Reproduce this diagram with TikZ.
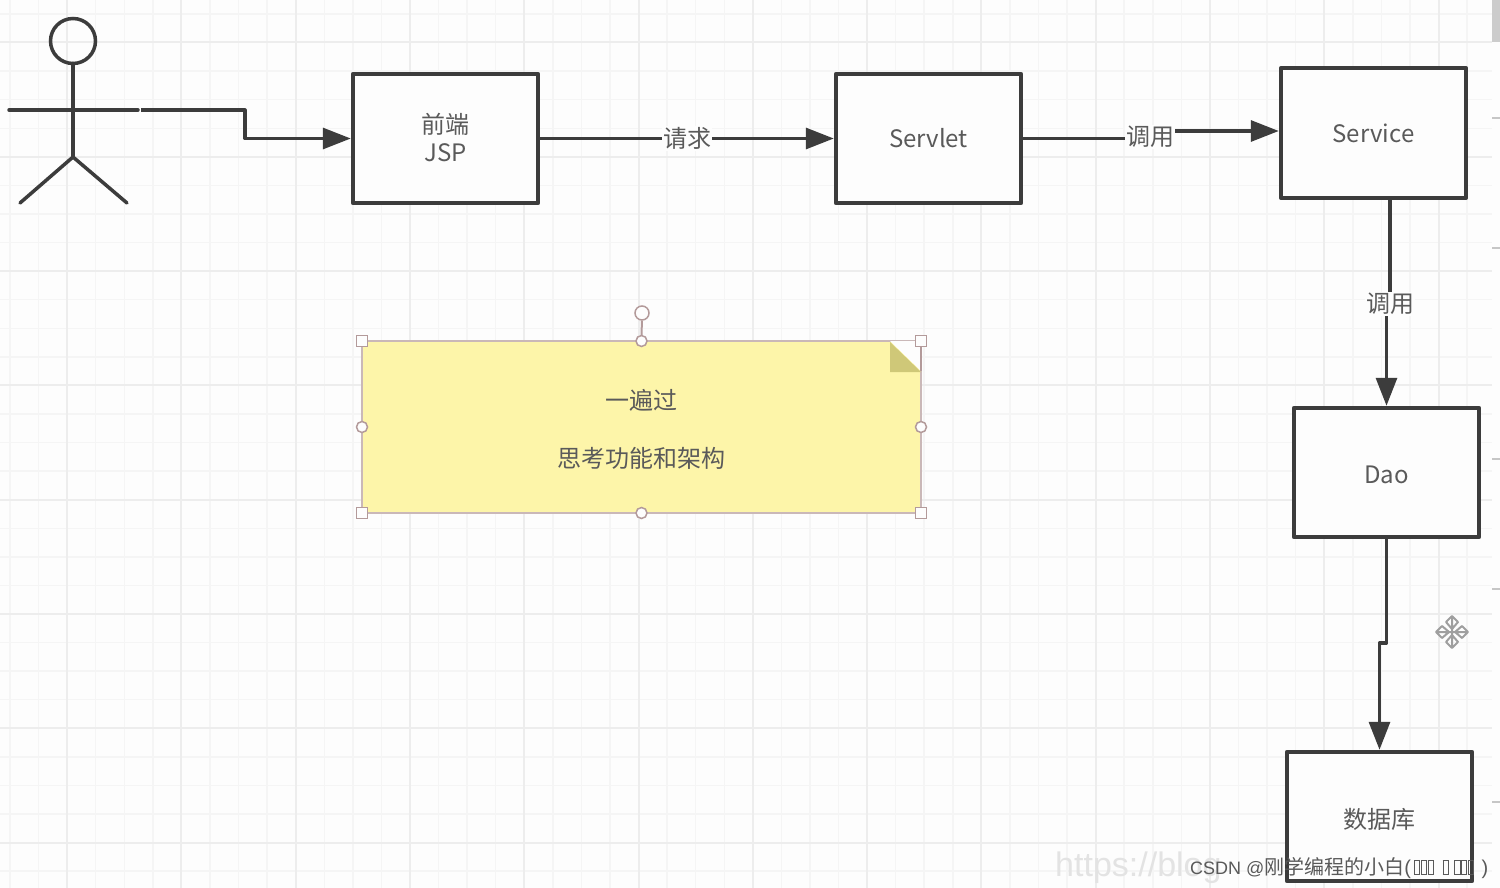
\documentclass[tikz,border=0pt]{standalone}
\usepackage{fontspec}
\setmainfont{Noto Sans CJK SC}
\newfontfamily\wmfont{Liberation Sans}
\usetikzlibrary{arrows.meta,positioning}
\definecolor{paper}{HTML}{FDFDFD}
\definecolor{gridminor}{HTML}{F5F5F5}
\definecolor{gridmajor}{HTML}{EDEDED}
\definecolor{ink}{HTML}{3C3C3C}
\definecolor{labelink}{HTML}{5A5A5A}
\definecolor{notefill}{HTML}{FDF5A9}
\definecolor{notefold}{HTML}{CFC878}
\definecolor{handle}{HTML}{B39A9A}
\newcommand{\tofubox}{\fboxsep=0pt\fboxrule=0.9pt\fbox{\rule{0pt}{14pt}\hspace{4.4pt}}\hspace{0.6pt}}
\newcommand{\textdrop}[1]{\rule{0pt}{#1}}
\tikzset{
  block/.style={draw=ink,fill=paper,line width=3.8pt,line join=round,minimum width=185.5pt,minimum height=129.5pt,outer sep=0pt,inner sep=0pt,text=labelink,font=\fontsize{24}{28}\selectfont,align=center},
  link/.style={->,color=ink,line width=3.2pt,line join=round,shorten >=2pt},
  linklabel/.style={fill=paper,inner sep=1pt,text=labelink,font=\fontsize{24}{28}\selectfont},
  figure/.style={draw=ink,line width=3.5pt,line cap=round},
  notebox/.style={draw=handle!70,fill=notefill,line width=1.5pt,minimum width=559pt,minimum height=172pt,outer sep=0pt,inner sep=0pt,text=labelink,font=\fontsize{24}{28}\selectfont,align=center},
  squarehandle/.style={draw=handle,fill=paper,line width=1.5pt,minimum size=11pt,inner sep=0pt},
  roundhandle/.style={circle,draw=handle,fill=paper,line width=1.5pt,minimum size=11pt,inner sep=0pt},
  moveline/.style={draw=gray!75,line width=2pt,line join=round}
}

\begin{document}
\begin{tikzpicture}[x=1pt,y=-1pt,>={Triangle[length=28pt,width=21pt]}]

          \useasboundingbox (0,0) rectangle (1500,888);
          \fill[paper] (0,0) rectangle (1500,888);

          \foreach \i in {0,...,52} \draw[gridminor,line width=1.5pt] ({10+28.57*\i},0) -- ({10+28.57*\i},888);
          \foreach \i in {0,...,30} \draw[gridminor,line width=1.5pt] (0,{14+28.57*\i}) -- (1492,{14+28.57*\i});
          \foreach \i in {0,...,12} \draw[gridmajor,line width=2pt] ({67+114.3*\i},0) -- ({67+114.3*\i},888);
          \foreach \i in {0,...,7} \draw[gridmajor,line width=2pt] (0,{42.5+114.3*\i}) -- (1492,{42.5+114.3*\i});

          \fill[paper] (1492,0) rectangle (1500,888);
          \fill[gray!40] (1492,0) rectangle (1500,42);
          \foreach \y in {118,248,459,589,802} \draw[gray!45,line width=2pt] (1492,\y) -- (1500,\y);

          \node[block]  (jsp) at (445.5,138.5)  {前端\\JSP\rule[-3pt]{0pt}{3pt}};
          \node[block]  (servlet) [right=297.5pt of jsp]  {Servlet};
          \node[block]  (service) [right=259.5pt of servlet,yshift=5.5pt]  {Service};
          \node[block]  (dao) [below=210pt of service,xshift=13pt]  {\textdrop{22pt}Dao};
          \node[block]  (db) [below=214.5pt of dao,xshift=-7pt]  {\textdrop{26pt}数据库};

          \node[circle,figure,fill=none,minimum size=45pt,inner sep=0pt,outer sep=0pt] (head) at (73,41) { };
          \coordinate (hip) at (73,157);
          \coordinate (armleft) at (9,110);
          \coordinate (armright) at (138,110);
          \coordinate (legleft) at (20,203);
          \coordinate (legright) at (127,203);
          \draw[figure] (head.south) -- (hip);
          \draw[figure] (armleft) -- (armright);
          \draw[figure] (legleft) -- (hip) -- (legright);

          \coordinate (hand) at (141,110);
          \coordinate (handbend) at (245,110);
          \coordinate (sermid) at (1150,137);
          \coordinate (daomid) at (1390,304);
          \coordinate (dbmid) at (1383,643);

          \draw[link] (hand) -- (handbend) |- (jsp.west);
          \path[link] (jsp) edge node[linklabel] (reqlabel) {请求} (servlet);
          \draw[link] (servlet.east) -| (sermid) |- ([yshift=2pt]service.west);
          \node[linklabel] (serlabel) at (sermid) {调用};
          \draw[link] ([xshift=16.5pt]service.south) |- (daomid) -| (dao.north);
          \node[linklabel] (daolabel) at (daomid) {调用};
          \draw[link] (dao.south) |- (dbmid) -| (db.north);

          \node[notebox] (note) at (641.5,427) {\textdrop{25pt}一遍过\\[30pt]思考功能和架构};
          \fill[paper] (note.north east) ++(-31,0) -- ++(31,0) -- ++(0,30) -- cycle;
          \fill[notefold] (note.north east) ++(-31,1) -- ++(31,30) -- ++(-31,0) -- cycle;
          \draw[handle,line width=1.5pt] (note.north east) -- ++(0,30);

          \node[roundhandle,minimum size=14pt] (turn) at (642,313) { };
          \draw[handle,line width=2pt] (turn) -- (note.north);
          \foreach \corner in {north west,north east,south west,south east}
            \node[squarehandle] at (note.\corner) { };
          \foreach \side in {north,south,east,west}
            \node[roundhandle] at (note.\side) { };

          \coordinate (moveicon) at (1452,632);
          \foreach \ang in {0,90,180,270}
            \draw[moveline,shift={(moveicon)},rotate=\ang] (0,0) -- (15,0) (3,0) -- (10,-6) -- (16,0) -- (10,6) -- cycle;

          \node[anchor=west,inner sep=0pt,text=gray!22,font=\wmfont\fontsize{34}{34}\selectfont] (blogmark) at (1055,868) {https://blog};
          \node[anchor=west,inner sep=0pt,text=black!65] (csdnmark) at (1190,868)
            {{\wmfont\fontsize{18}{20}\selectfont CSDN @}\fontsize{20}{22}\selectfont 刚学编程的小白{\wmfont(\hspace{3pt}\tofubox\tofubox\tofubox\hspace{8pt}\tofubox\hspace{5pt}\tofubox\tofubox\tofubox\hspace{7pt})}};
        \end{tikzpicture}
\end{document}
